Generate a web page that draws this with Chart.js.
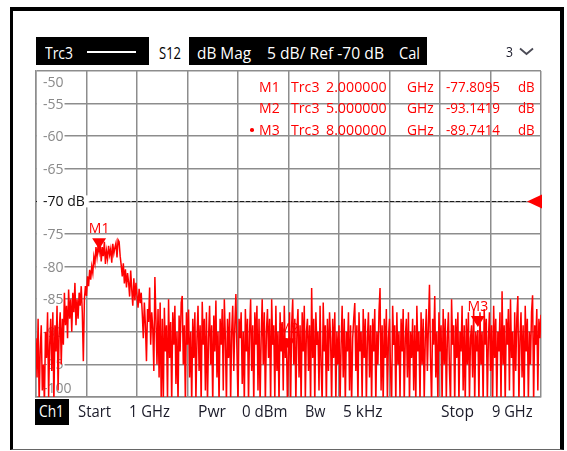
<!DOCTYPE html>
<html>
<head>
<meta charset="utf-8">
<script src="https://cdn.jsdelivr.net/npm/chart.js@4/dist/chart.umd.min.js"></script>
<style>
  html, body { margin: 0; padding: 0; background: #fff; }
  #wrap { position: relative; width: 567px; height: 451px; overflow: hidden; font-family: "Open Sans", sans-serif; }
  #frame { position: absolute; left: 10px; top: 7px; width: 554px; height: 443px; box-sizing: border-box;
           border-left: 3px solid #000; border-top: 4px solid #000; border-right: 4px solid #000; border-bottom: 1px solid #666; }
  #plot { position: absolute; left: 0; top: 0; }
  .box { position: absolute; }
  .t { position: absolute; white-space: nowrap; line-height: 1; transform-origin: 0 0; }
</style>
</head>
<body>
<div id="wrap">
  <div id="frame"></div>
  <canvas id="plot" width="567" height="451"></canvas>
  <div class="box" style="left:36px;top:37px;width:391px;height:28px;background:#000"></div>
  <div class="box" style="left:87px;top:51px;width:49px;height:2px;background:#fff"></div>
  <div class="box" style="left:149px;top:37px;width:40px;height:28px;background:#fff"></div>
  <div class="box" style="left:35px;top:399px;width:34px;height:26px;background:#000"></div>
  <svg class="box" style="left:518px;top:45px" width="18" height="12">
    <polyline points="2,3.5 8.5,9 15,3.5" fill="none" stroke="#4a4a55" stroke-width="1.8"/>
  </svg>
</div>
<script>
// sweep
const startGHz = 1;
const stopGHz = 9;
// S12 magnitude in dB, one value per sweep point (481 points)
const s12dB = [
  -91, -97, -88, -101, -93, -89, -99, -95, -101, -90, -94, -87, -100, -92, -88, -96, -87, -101, -89, -93,
  -86, -99, -90, -87, -95, -88, -92, -84, -89, -86, -91, -83.5, -88, -85, -90, -84, -87, -82.5, -89, -85,
  -88, -84, -86, -83, -87, -94.5, -85, -83, -84.5, -81.5, -83, -80.5, -82, -80, -81, -78.5, -79.5, -77, -78.5, -76.8,
  -77.81, -76.4, -79.2, -77, -78.4, -76.2, -79.6, -77.6, -78.8, -76.8, -78.2, -77.3, -79.4, -76.5, -78, -77.1, -76.4, -78.6, -75.9, -76.2,
  -78.4, -79.8, -81.5, -79.5, -82.6, -80.4, -83.2, -81, -82.4, -84.6, -80.6, -83.5, -86, -81.8, -85.2, -82.5, -84.4, -86.3, -83.4, -85.6,
  -84, -87.2, -91, -85.5, -89, -94.5, -86.5, -88.5, -83.2, -92, -87, -89.5, -96, -81.6, -88, -95, -86.5, -97, -85.5, -100.5,
  -88, -101, -86.3, -93, -89, -100.5, -85, -94, -88.5, -101, -87, -92, -86, -98, -90, -101, -87.5, -93, -85.5, -84.5,
  -95, -89, -101, -87, -92, -86.6, -97, -90, -101, -88, -94, -87, -100.5, -91, -86, -96, -89, -101, -85.4, -92,
  -88, -99, -87, -101, -91, -86, -95, -89, -101, -87.5, -93, -85.2, -97, -90, -101, -88, -92, -86.5, -99, -85,
  -91, -101, -88, -94, -87, -100.5, -90, -86, -96, -89, -84.2, -93, -101, -88, -91, -87, -98, -90, -101, -86.5,
  -93, -88, -101, -90, -85, -96, -89, -101, -87, -92, -86, -99, -88, -101, -91, -85, -95, -87, -101, -90,
  -86.5, -94, -88, -101, -85, -92, -89, -100.5, -86, -96, -90, -101, -87, -93, -88.5, -99, -86, -94, -91, -101,
  -93.14, -87, -101, -89, -85, -95, -88, -101, -90, -86.5, -97, -89, -101, -87, -93, -86, -100.5, -90, -88, -96,
  -89, -101, -83.3, -94, -88, -101, -87, -92, -90, -99, -86, -95, -101, -85.5, -93, -89, -101, -88, -96, -87,
  -91, -101, -88, -94, -87, -100.5, -90, -95, -89, -101, -92, -86, -97, -88, -101, -90, -93, -87, -99, -89,
  -101, -91, -88, -85.6, -96, -89, -101, -87, -93, -90, -100.5, -86.5, -94, -88, -101, -91, -87, -97, -89, -101,
  -88, -93, -86.5, -101, -90, -95, -87, -83.3, -99, -89, -101, -88, -94, -86.5, -100.5, -91, -88, -96, -101, -86,
  -92, -89, -101, -87, -95, -90, -100.5, -88, -93, -86.5, -101, -91, -88, -97, -87, -101, -90, -94, -88, -99,
  -89, -101, -86, -93, -90, -101, -87, -95, -88, -100.5, -91, -86.5, -96, -89, -82.8, -94, -101, -88, -92, -84.5,
  -97, -90, -101, -87, -93, -89, -101, -86.5, -95, -88, -100.5, -91, -87, -96, -101, -85, -92, -89, -101, -88,
  -94, -87, -101, -90, -93, -86, -99, -89, -101, -88, -95, -87, -100.5, -91, -89, -97, -86.5, -101, -90, -93,
  -89.74, -101, -87, -95, -90, -101, -86.5, -92, -88, -100.5, -91, -87, -96, -89, -101, -86, -94, -88, -101, -90,
  -93, -87, -101, -83.8, -95, -89, -101, -88, -92, -86.5, -99, -85, -94, -90, -101, -87, -96, -88, -84.5, -101,
  -91, -87, -97, -89, -101, -86, -93, -88, -100.5, -90, -95, -87, -84.4, -101, -89, -92, -86.5, -99, -88, -91,
  -87.4
];
const yTicks = [-50, -55, -60, -65, -70, -75, -80, -85, -90, -95, -100];
const xGridGHz = [1, 1.8, 2.6, 3.4, 4.2, 5, 5.8, 6.6, 7.4, 8.2, 9];
const refLevel = -70;
const markerNames = ["M1", "M2", "M3"];
const markerGHz = [2, 5, 8];
const markerDb = [-77.8095, -93.1419, -89.7414];

const wrap = document.getElementById("wrap");
const red = "#ff0000";

// place a text so it spans x0..x1 with its cap line centred on cy
function put(txt, x0, x1, cy, size, color) {
  const s = document.createElement("span");
  s.className = "t";
  s.textContent = txt;
  s.style.fontSize = size + "px";
  s.style.color = color;
  wrap.appendChild(s);
  const w = s.getBoundingClientRect().width;
  s.style.left = x0 + "px";
  s.style.top = (cy - 0.53 * size) + "px";
  s.style.transform = "scaleX(" + ((x1 - x0) / w).toFixed(3) + ")";
}

// header
put("Trc3", 45, 73, 53, 17, "#fff");
put("S12", 159, 181, 53, 17, "#000");
put("dB Mag", 197, 251, 53, 17, "#fff");
put("5 dB/ Ref -70 dB", 267, 384, 53, 17, "#fff");
put("Cal", 399, 420, 53, 17, "#fff");
put("3", 506, 513, 51.5, 15, "#1c1c2c");

// footer
const foot = "#1a1a28";
put("Ch1", 39, 64, 411, 17, "#fff");
put("Start", 78, 111, 411, 17, foot);
put("1 GHz", 129, 170, 411, 17, foot);
put("Pwr", 198, 226, 411, 17, foot);
put("0 dBm", 242, 287.5, 411, 17, foot);
put("Bw", 305, 325.5, 411, 17, foot);
put("5 kHz", 342.5, 382, 411, 17, foot);
put("Stop", 441, 474, 411, 17, foot);
put("9 GHz", 491.5, 532, 411, 17, foot);

// marker table
const rowY = [87, 108.5, 130];
markerNames.forEach((m, i) => {
  put(m, 259.3, 280, rowY[i], 14, red);
  put("Trc3", 291, 319.5, rowY[i], 14, red);
  put(markerGHz[i].toFixed(6), 326, 386.7, rowY[i], 14, red);
  put("GHz", 406.7, 433.3, rowY[i], 14, red);
  put(markerDb[i].toFixed(4), 446, 500, rowY[i], 14, red);
  put("dB", 518.3, 535, rowY[i], 14, red);
});
const dot = document.createElement("div");
dot.className = "box";
dot.style.cssText = "left:250px;top:128px;width:3.5px;height:3.5px;border-radius:50%;background:" + red;
wrap.appendChild(dot);

const points = s12dB.map((v, i) => ({
  x: startGHz + (stopGHz - startGHz) * i / (s12dB.length - 1),
  y: v,
}));

const overlay = {
  id: "overlay",
  beforeDatasetsDraw(chart) {
    const { ctx, chartArea: a, scales: { x, y } } = chart;
    ctx.save();
    // reference level line and its arrow
    const ry = Math.round(y.getPixelForValue(refLevel)) + 0.5;
    ctx.strokeStyle = "#1a1a1a";
    ctx.lineWidth = 1;
    ctx.setLineDash([4, 2]);
    ctx.beginPath();
    ctx.moveTo(a.left, ry);
    ctx.lineTo(a.right - 14, ry);
    ctx.stroke();
    ctx.setLineDash([]);
    ctx.fillStyle = red;
    ctx.beginPath();
    ctx.moveTo(a.right - 14, ry);
    ctx.lineTo(a.right + 1, ry - 7);
    ctx.lineTo(a.right + 1, ry + 7);
    ctx.closePath();
    ctx.fill();

    // y labels inside the grid
    ctx.font = '14px "Open Sans"';
    ctx.textAlign = "left";
    yTicks.forEach((v) => {
      let cy = y.getPixelForValue(v);
      cy = Math.min(Math.max(cy, a.top + 11), a.bottom - 9);
      const isRef = v === refLevel;
      const txt = isRef ? v + " dB" : String(v);
      const w = ctx.measureText(txt).width;
      ctx.fillStyle = "#fff";
      ctx.fillRect(a.left + 1, cy - 6, 43 - a.left - 1 + w + (isRef ? 4 : 1), 12);
      ctx.fillStyle = isRef ? "#111" : "#8a8a8a";
      ctx.fillText(txt, 43, cy + 5);
    });

    // marker labels
    ctx.textAlign = "center";
    ctx.fillStyle = red;
    markerNames.forEach((m, i) => {
      const px = x.getPixelForValue(markerGHz[i]);
      const tip = y.getPixelForValue(markerDb[i]) - 3;
      ctx.fillText(m, px, tip - 21 + 5);
    });
    ctx.restore();
  },
  afterDatasetsDraw(chart) {
    const { ctx, scales: { x, y } } = chart;
    ctx.save();
    ctx.fillStyle = red;
    markerNames.forEach((m, i) => {
      const px = x.getPixelForValue(markerGHz[i]);
      const tip = y.getPixelForValue(markerDb[i]) - 3;
      ctx.beginPath();
      ctx.moveTo(px, tip);
      ctx.lineTo(px - 7, tip - 11);
      ctx.lineTo(px + 7, tip - 11);
      ctx.closePath();
      ctx.fill();
    });
    ctx.restore();
  },
};

const gridColor = "#8d8d8d";

new Chart(document.getElementById("plot"), {
  type: "line",
  data: {
    datasets: [
      {
        label: "Trc3 S12",
        data: points,
        borderColor: red,
        borderWidth: 1.5,
        pointRadius: 0,
        tension: 0,
      },
    ],
  },
  options: {
    responsive: false,
    animation: false,
    events: [],
    layout: { padding: { left: 36, right: 26, top: 71, bottom: 54 } },
    plugins: { legend: { display: false }, tooltip: { enabled: false } },
    scales: {
      x: {
        type: "linear",
        min: startGHz,
        max: stopGHz,
        afterBuildTicks: (s) => { s.ticks = xGridGHz.map((v) => ({ value: v })); },
        afterFit: (s) => { s.height = 0; },
        ticks: { display: false },
        grid: { color: gridColor, lineWidth: 1.5, drawTicks: false },
        border: { color: gridColor, width: 1.5 },
      },
      y: {
        type: "linear",
        min: -100,
        max: -50,
        afterBuildTicks: (s) => { s.ticks = yTicks.map((v) => ({ value: v })); },
        afterFit: (s) => { s.width = 0; },
        ticks: { display: false },
        grid: { color: gridColor, lineWidth: 1.5, drawTicks: false },
        border: { color: gridColor, width: 1.5 },
      },
    },
  },
  plugins: [overlay],
});
</script>
</body>
</html>
